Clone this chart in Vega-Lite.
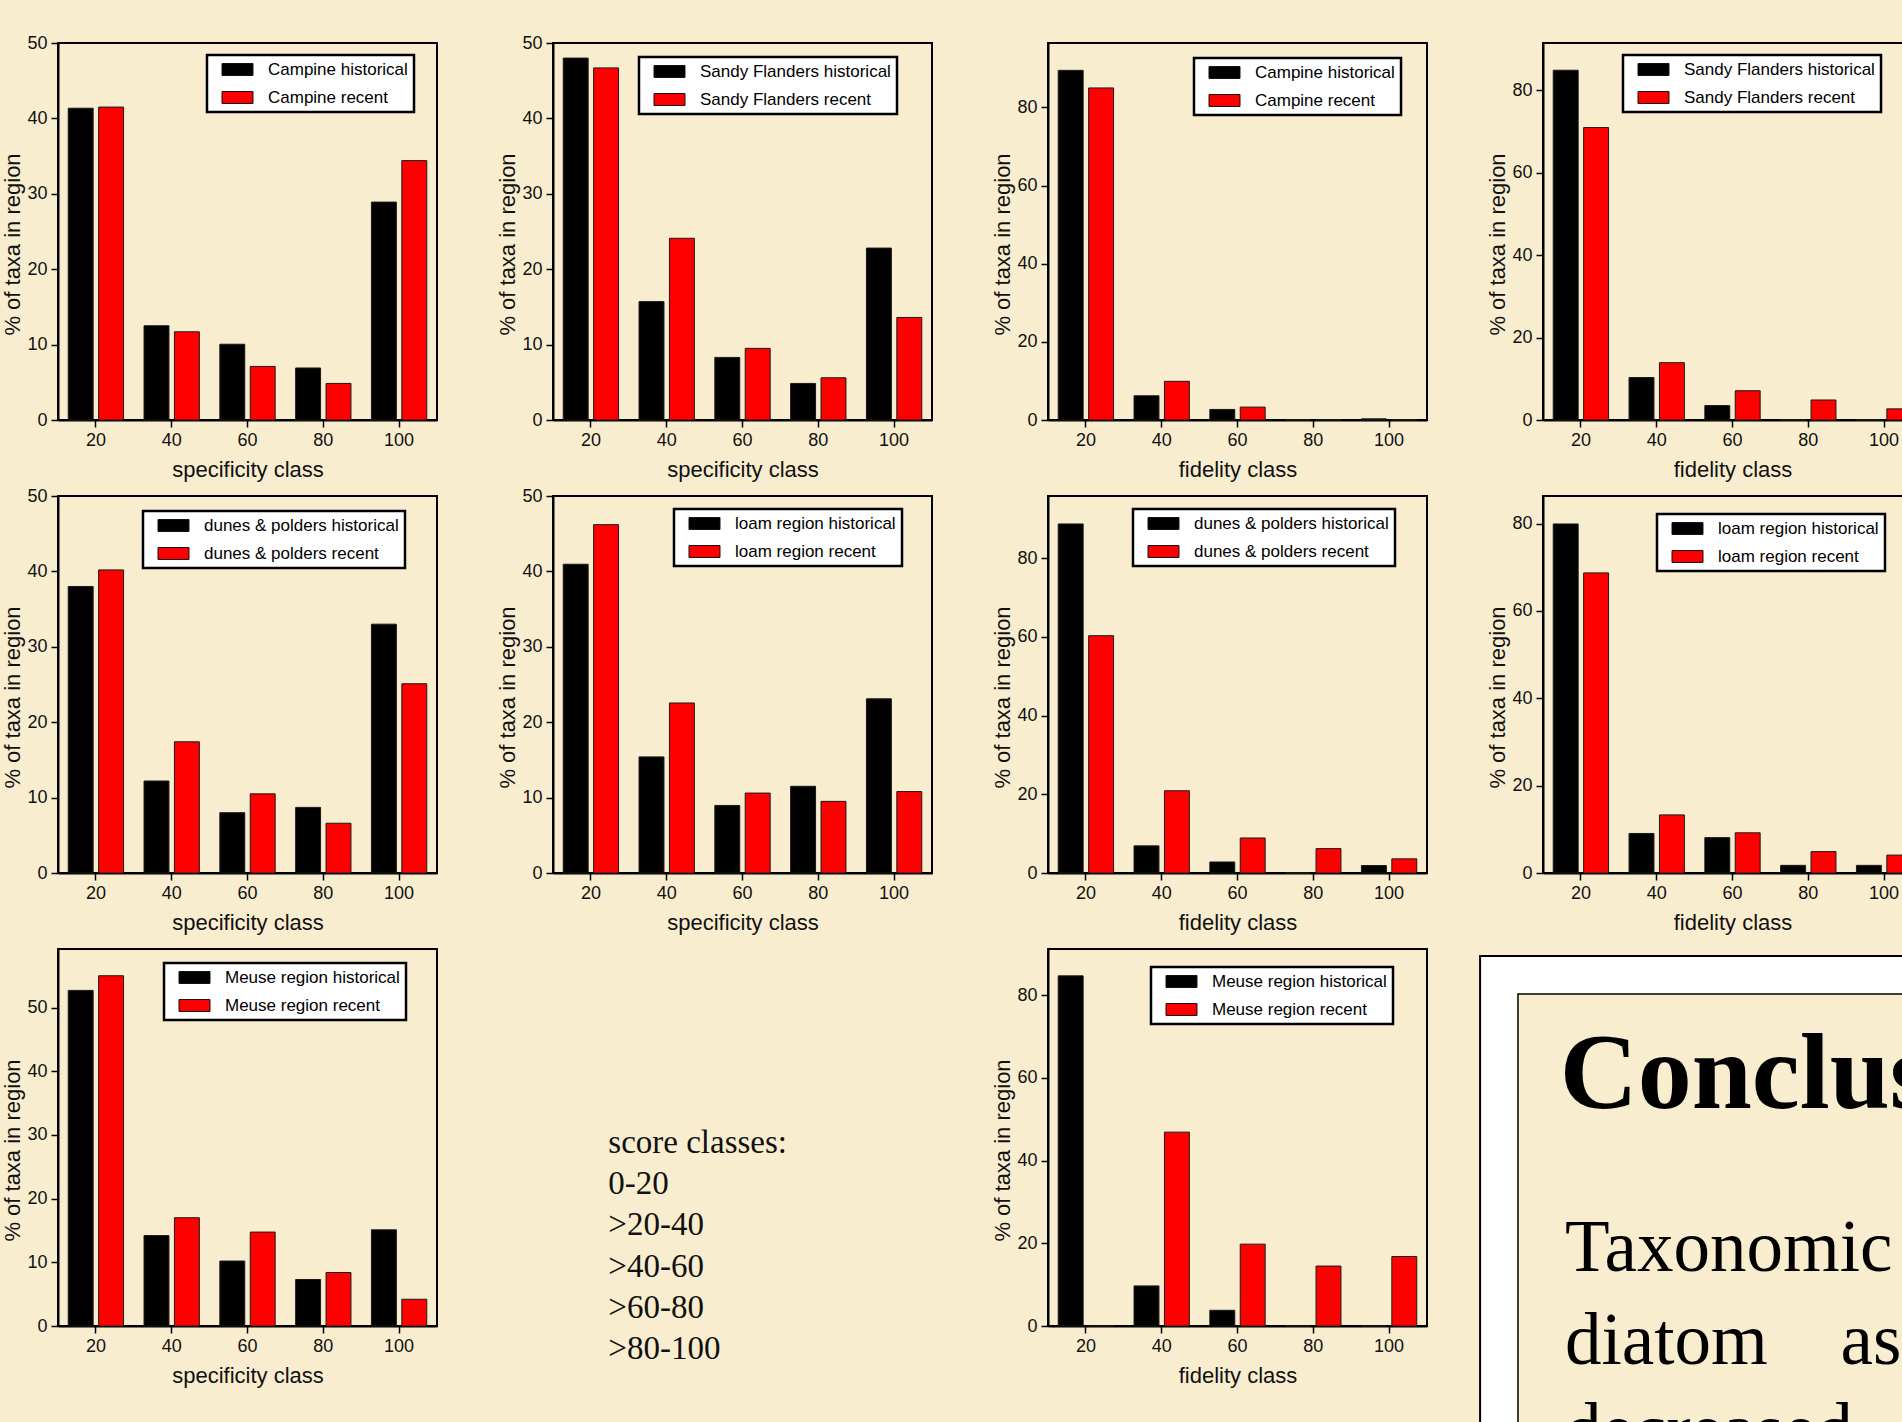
{
  "$schema": "https://vega.github.io/schema/vega-lite/v6.json",
  "background": "#F9EDCF",
  "padding": {"left": 0, "top": 33, "right": 0, "bottom": 0},
  "datasets": {
    "bars": [
      {"p":1,"cls":20,"period":"historical","series":"Campine historical","pct":41.35},
      {"p":1,"cls":40,"period":"historical","series":"Campine historical","pct":12.5},
      {"p":1,"cls":60,"period":"historical","series":"Campine historical","pct":10.05},
      {"p":1,"cls":80,"period":"historical","series":"Campine historical","pct":6.9},
      {"p":1,"cls":100,"period":"historical","series":"Campine historical","pct":28.9},
      {"p":1,"cls":20,"period":"recent","series":"Campine recent","pct":41.5},
      {"p":1,"cls":40,"period":"recent","series":"Campine recent","pct":11.7},
      {"p":1,"cls":60,"period":"recent","series":"Campine recent","pct":7.1},
      {"p":1,"cls":80,"period":"recent","series":"Campine recent","pct":4.85},
      {"p":1,"cls":100,"period":"recent","series":"Campine recent","pct":34.4},

      {"p":2,"cls":20,"period":"historical","series":"Sandy Flanders historical","pct":48.0},
      {"p":2,"cls":40,"period":"historical","series":"Sandy Flanders historical","pct":15.7},
      {"p":2,"cls":60,"period":"historical","series":"Sandy Flanders historical","pct":8.3},
      {"p":2,"cls":80,"period":"historical","series":"Sandy Flanders historical","pct":4.85},
      {"p":2,"cls":100,"period":"historical","series":"Sandy Flanders historical","pct":22.8},
      {"p":2,"cls":20,"period":"recent","series":"Sandy Flanders recent","pct":46.7},
      {"p":2,"cls":40,"period":"recent","series":"Sandy Flanders recent","pct":24.1},
      {"p":2,"cls":60,"period":"recent","series":"Sandy Flanders recent","pct":9.5},
      {"p":2,"cls":80,"period":"recent","series":"Sandy Flanders recent","pct":5.6},
      {"p":2,"cls":100,"period":"recent","series":"Sandy Flanders recent","pct":13.6},

      {"p":3,"cls":20,"period":"historical","series":"Campine historical","pct":89.5},
      {"p":3,"cls":40,"period":"historical","series":"Campine historical","pct":6.2},
      {"p":3,"cls":60,"period":"historical","series":"Campine historical","pct":2.7},
      {"p":3,"cls":80,"period":"historical","series":"Campine historical","pct":0},
      {"p":3,"cls":100,"period":"historical","series":"Campine historical","pct":0.3},
      {"p":3,"cls":20,"period":"recent","series":"Campine recent","pct":85.0},
      {"p":3,"cls":40,"period":"recent","series":"Campine recent","pct":9.9},
      {"p":3,"cls":60,"period":"recent","series":"Campine recent","pct":3.3},
      {"p":3,"cls":80,"period":"recent","series":"Campine recent","pct":0},
      {"p":3,"cls":100,"period":"recent","series":"Campine recent","pct":0},

      {"p":4,"cls":20,"period":"historical","series":"Sandy Flanders historical","pct":84.8},
      {"p":4,"cls":40,"period":"historical","series":"Sandy Flanders historical","pct":10.3},
      {"p":4,"cls":60,"period":"historical","series":"Sandy Flanders historical","pct":3.5},
      {"p":4,"cls":80,"period":"historical","series":"Sandy Flanders historical","pct":0},
      {"p":4,"cls":100,"period":"historical","series":"Sandy Flanders historical","pct":0},
      {"p":4,"cls":20,"period":"recent","series":"Sandy Flanders recent","pct":70.9},
      {"p":4,"cls":40,"period":"recent","series":"Sandy Flanders recent","pct":13.9},
      {"p":4,"cls":60,"period":"recent","series":"Sandy Flanders recent","pct":7.1},
      {"p":4,"cls":80,"period":"recent","series":"Sandy Flanders recent","pct":4.85},
      {"p":4,"cls":100,"period":"recent","series":"Sandy Flanders recent","pct":2.7},

      {"p":5,"cls":20,"period":"historical","series":"dunes & polders historical","pct":38.0},
      {"p":5,"cls":40,"period":"historical","series":"dunes & polders historical","pct":12.2},
      {"p":5,"cls":60,"period":"historical","series":"dunes & polders historical","pct":8.0},
      {"p":5,"cls":80,"period":"historical","series":"dunes & polders historical","pct":8.7},
      {"p":5,"cls":100,"period":"historical","series":"dunes & polders historical","pct":33.0},
      {"p":5,"cls":20,"period":"recent","series":"dunes & polders recent","pct":40.2},
      {"p":5,"cls":40,"period":"recent","series":"dunes & polders recent","pct":17.4},
      {"p":5,"cls":60,"period":"recent","series":"dunes & polders recent","pct":10.5},
      {"p":5,"cls":80,"period":"recent","series":"dunes & polders recent","pct":6.6},
      {"p":5,"cls":100,"period":"recent","series":"dunes & polders recent","pct":25.1},

      {"p":6,"cls":20,"period":"historical","series":"loam region historical","pct":40.95},
      {"p":6,"cls":40,"period":"historical","series":"loam region historical","pct":15.4},
      {"p":6,"cls":60,"period":"historical","series":"loam region historical","pct":8.96},
      {"p":6,"cls":80,"period":"historical","series":"loam region historical","pct":11.5},
      {"p":6,"cls":100,"period":"historical","series":"loam region historical","pct":23.1},
      {"p":6,"cls":20,"period":"recent","series":"loam region recent","pct":46.2},
      {"p":6,"cls":40,"period":"recent","series":"loam region recent","pct":22.55},
      {"p":6,"cls":60,"period":"recent","series":"loam region recent","pct":10.6},
      {"p":6,"cls":80,"period":"recent","series":"loam region recent","pct":9.5},
      {"p":6,"cls":100,"period":"recent","series":"loam region recent","pct":10.8},

      {"p":7,"cls":20,"period":"historical","series":"dunes & polders historical","pct":88.7},
      {"p":7,"cls":40,"period":"historical","series":"dunes & polders historical","pct":6.9},
      {"p":7,"cls":60,"period":"historical","series":"dunes & polders historical","pct":2.8},
      {"p":7,"cls":80,"period":"historical","series":"dunes & polders historical","pct":0},
      {"p":7,"cls":100,"period":"historical","series":"dunes & polders historical","pct":1.9},
      {"p":7,"cls":20,"period":"recent","series":"dunes & polders recent","pct":60.3},
      {"p":7,"cls":40,"period":"recent","series":"dunes & polders recent","pct":20.9},
      {"p":7,"cls":60,"period":"recent","series":"dunes & polders recent","pct":8.9},
      {"p":7,"cls":80,"period":"recent","series":"dunes & polders recent","pct":6.2},
      {"p":7,"cls":100,"period":"recent","series":"dunes & polders recent","pct":3.6},

      {"p":8,"cls":20,"period":"historical","series":"loam region historical","pct":79.9},
      {"p":8,"cls":40,"period":"historical","series":"loam region historical","pct":9.05},
      {"p":8,"cls":60,"period":"historical","series":"loam region historical","pct":8.1},
      {"p":8,"cls":80,"period":"historical","series":"loam region historical","pct":1.75},
      {"p":8,"cls":100,"period":"historical","series":"loam region historical","pct":1.75},
      {"p":8,"cls":20,"period":"recent","series":"loam region recent","pct":68.7},
      {"p":8,"cls":40,"period":"recent","series":"loam region recent","pct":13.3},
      {"p":8,"cls":60,"period":"recent","series":"loam region recent","pct":9.2},
      {"p":8,"cls":80,"period":"recent","series":"loam region recent","pct":4.9},
      {"p":8,"cls":100,"period":"recent","series":"loam region recent","pct":4.1},

      {"p":9,"cls":20,"period":"historical","series":"Meuse region historical","pct":52.7},
      {"p":9,"cls":40,"period":"historical","series":"Meuse region historical","pct":14.2},
      {"p":9,"cls":60,"period":"historical","series":"Meuse region historical","pct":10.2},
      {"p":9,"cls":80,"period":"historical","series":"Meuse region historical","pct":7.3},
      {"p":9,"cls":100,"period":"historical","series":"Meuse region historical","pct":15.1},
      {"p":9,"cls":20,"period":"recent","series":"Meuse region recent","pct":55.0},
      {"p":9,"cls":40,"period":"recent","series":"Meuse region recent","pct":17.0},
      {"p":9,"cls":60,"period":"recent","series":"Meuse region recent","pct":14.75},
      {"p":9,"cls":80,"period":"recent","series":"Meuse region recent","pct":8.4},
      {"p":9,"cls":100,"period":"recent","series":"Meuse region recent","pct":4.2},

      {"p":10,"cls":20,"period":"historical","series":"Meuse region historical","pct":84.7},
      {"p":10,"cls":40,"period":"historical","series":"Meuse region historical","pct":9.7},
      {"p":10,"cls":60,"period":"historical","series":"Meuse region historical","pct":3.8},
      {"p":10,"cls":80,"period":"historical","series":"Meuse region historical","pct":0},
      {"p":10,"cls":100,"period":"historical","series":"Meuse region historical","pct":0},
      {"p":10,"cls":20,"period":"recent","series":"Meuse region recent","pct":0},
      {"p":10,"cls":40,"period":"recent","series":"Meuse region recent","pct":46.9},
      {"p":10,"cls":60,"period":"recent","series":"Meuse region recent","pct":19.8},
      {"p":10,"cls":80,"period":"recent","series":"Meuse region recent","pct":14.5},
      {"p":10,"cls":100,"period":"recent","series":"Meuse region recent","pct":16.8}
    ]
  },
  "columns": 4,
  "bounds": "flush",
  "spacing": {"row": 76, "column": 116},
  "concat": [
    {
      "width": 379, "height": 377,
      "data": {"name": "bars"},
      "transform": [{"filter": "datum.p == 1"}],
      "mark": {"type": "bar", "stroke": "#1a1a1a", "strokeWidth": 1},
      "encoding": {
        "x": {"field": "cls", "type": "ordinal", "title": "specificity class", "scale": {"paddingInner": 0.27, "paddingOuter": 0.135}},
        "xOffset": {"field": "period", "type": "nominal", "scale": {"paddingInner": 0.18}},
        "y": {"field": "pct", "type": "quantitative", "title": "% of taxa in region", "scale": {"domain": [0, 50], "nice": false}, "axis": {"values": [0, 10, 20, 30, 40, 50]}},
        "color": {"field": "series", "type": "nominal", "scale": {"range": ["#000000", "#ff0000"]}, "legend": {"legendX": 149, "legendY": 12}}
      }
    },
    {
      "width": 379, "height": 377,
      "data": {"name": "bars"},
      "transform": [{"filter": "datum.p == 2"}],
      "mark": {"type": "bar", "stroke": "#1a1a1a", "strokeWidth": 1},
      "encoding": {
        "x": {"field": "cls", "type": "ordinal", "title": "specificity class", "scale": {"paddingInner": 0.27, "paddingOuter": 0.135}},
        "xOffset": {"field": "period", "type": "nominal", "scale": {"paddingInner": 0.18}},
        "y": {"field": "pct", "type": "quantitative", "title": "% of taxa in region", "scale": {"domain": [0, 50], "nice": false}, "axis": {"values": [0, 10, 20, 30, 40, 50]}},
        "color": {"field": "series", "type": "nominal", "scale": {"range": ["#000000", "#ff0000"]}, "legend": {"legendX": 86, "legendY": 14}}
      }
    },
    {
      "width": 379, "height": 377,
      "data": {"name": "bars"},
      "transform": [{"filter": "datum.p == 3"}],
      "mark": {"type": "bar", "stroke": "#1a1a1a", "strokeWidth": 1},
      "encoding": {
        "x": {"field": "cls", "type": "ordinal", "title": "fidelity class", "scale": {"paddingInner": 0.27, "paddingOuter": 0.135}},
        "xOffset": {"field": "period", "type": "nominal", "scale": {"paddingInner": 0.18}},
        "y": {"field": "pct", "type": "quantitative", "title": "% of taxa in region", "scale": {"domain": [0, 96.5], "nice": false}, "axis": {"values": [0, 20, 40, 60, 80]}},
        "color": {"field": "series", "type": "nominal", "scale": {"range": ["#000000", "#ff0000"]}, "legend": {"legendX": 146, "legendY": 15}}
      }
    },
    {
      "width": 379, "height": 377,
      "data": {"name": "bars"},
      "transform": [{"filter": "datum.p == 4"}],
      "mark": {"type": "bar", "stroke": "#1a1a1a", "strokeWidth": 1},
      "encoding": {
        "x": {"field": "cls", "type": "ordinal", "title": "fidelity class", "scale": {"paddingInner": 0.27, "paddingOuter": 0.135}},
        "xOffset": {"field": "period", "type": "nominal", "scale": {"paddingInner": 0.18}},
        "y": {"field": "pct", "type": "quantitative", "title": "% of taxa in region", "scale": {"domain": [0, 91.4], "nice": false}, "axis": {"values": [0, 20, 40, 60, 80]}},
        "color": {"field": "series", "type": "nominal", "scale": {"range": ["#000000", "#ff0000"]}, "legend": {"legendX": 80, "legendY": 12}}
      }
    },
    {
      "width": 379, "height": 377,
      "data": {"name": "bars"},
      "transform": [{"filter": "datum.p == 5"}],
      "mark": {"type": "bar", "stroke": "#1a1a1a", "strokeWidth": 1},
      "encoding": {
        "x": {"field": "cls", "type": "ordinal", "title": "specificity class", "scale": {"paddingInner": 0.27, "paddingOuter": 0.135}},
        "xOffset": {"field": "period", "type": "nominal", "scale": {"paddingInner": 0.18}},
        "y": {"field": "pct", "type": "quantitative", "title": "% of taxa in region", "scale": {"domain": [0, 50], "nice": false}, "axis": {"values": [0, 10, 20, 30, 40, 50]}},
        "color": {"field": "series", "type": "nominal", "scale": {"range": ["#000000", "#ff0000"]}, "legend": {"legendX": 85, "legendY": 15}}
      }
    },
    {
      "width": 379, "height": 377,
      "data": {"name": "bars"},
      "transform": [{"filter": "datum.p == 6"}],
      "mark": {"type": "bar", "stroke": "#1a1a1a", "strokeWidth": 1},
      "encoding": {
        "x": {"field": "cls", "type": "ordinal", "title": "specificity class", "scale": {"paddingInner": 0.27, "paddingOuter": 0.135}},
        "xOffset": {"field": "period", "type": "nominal", "scale": {"paddingInner": 0.18}},
        "y": {"field": "pct", "type": "quantitative", "title": "% of taxa in region", "scale": {"domain": [0, 50], "nice": false}, "axis": {"values": [0, 10, 20, 30, 40, 50]}},
        "color": {"field": "series", "type": "nominal", "scale": {"range": ["#000000", "#ff0000"]}, "legend": {"legendX": 121, "legendY": 13}}
      }
    },
    {
      "width": 379, "height": 377,
      "data": {"name": "bars"},
      "transform": [{"filter": "datum.p == 7"}],
      "mark": {"type": "bar", "stroke": "#1a1a1a", "strokeWidth": 1},
      "encoding": {
        "x": {"field": "cls", "type": "ordinal", "title": "fidelity class", "scale": {"paddingInner": 0.27, "paddingOuter": 0.135}},
        "xOffset": {"field": "period", "type": "nominal", "scale": {"paddingInner": 0.18}},
        "y": {"field": "pct", "type": "quantitative", "title": "% of taxa in region", "scale": {"domain": [0, 95.8], "nice": false}, "axis": {"values": [0, 20, 40, 60, 80]}},
        "color": {"field": "series", "type": "nominal", "scale": {"range": ["#000000", "#ff0000"]}, "legend": {"legendX": 85, "legendY": 13}}
      }
    },
    {
      "width": 379, "height": 377,
      "data": {"name": "bars"},
      "transform": [{"filter": "datum.p == 8"}],
      "mark": {"type": "bar", "stroke": "#1a1a1a", "strokeWidth": 1},
      "encoding": {
        "x": {"field": "cls", "type": "ordinal", "title": "fidelity class", "scale": {"paddingInner": 0.27, "paddingOuter": 0.135}},
        "xOffset": {"field": "period", "type": "nominal", "scale": {"paddingInner": 0.18}},
        "y": {"field": "pct", "type": "quantitative", "title": "% of taxa in region", "scale": {"domain": [0, 86.3], "nice": false}, "axis": {"values": [0, 20, 40, 60, 80]}},
        "color": {"field": "series", "type": "nominal", "scale": {"range": ["#000000", "#ff0000"]}, "legend": {"legendX": 114, "legendY": 18}}
      }
    },
    {
      "width": 379, "height": 377,
      "data": {"name": "bars"},
      "transform": [{"filter": "datum.p == 9"}],
      "mark": {"type": "bar", "stroke": "#1a1a1a", "strokeWidth": 1},
      "encoding": {
        "x": {"field": "cls", "type": "ordinal", "title": "specificity class", "scale": {"paddingInner": 0.27, "paddingOuter": 0.135}},
        "xOffset": {"field": "period", "type": "nominal", "scale": {"paddingInner": 0.18}},
        "y": {"field": "pct", "type": "quantitative", "title": "% of taxa in region", "scale": {"domain": [0, 59.2], "nice": false}, "axis": {"values": [0, 10, 20, 30, 40, 50]}},
        "color": {"field": "series", "type": "nominal", "scale": {"range": ["#000000", "#ff0000"]}, "legend": {"legendX": 106, "legendY": 14}}
      }
    },
    {
      "width": 379, "height": 377,
      "view": {"stroke": null},
      "data": {"values": [{}]},
      "mark": {"type": "text", "text": ["score classes:", "0-20", ">20-40", ">40-60", ">60-80", ">80-100"], "font": "Liberation Serif", "fontSize": 33, "lineHeight": 41.2, "align": "left", "baseline": "alphabetic", "color": "#111111"},
      "encoding": {
        "x": {"datum": 0.146, "type": "quantitative", "scale": {"domain": [0, 1]}, "axis": null},
        "y": {"datum": 0.541, "type": "quantitative", "scale": {"domain": [0, 1], "reverse": true}, "axis": null}
      }
    },
    {
      "width": 379, "height": 377,
      "data": {"name": "bars"},
      "transform": [{"filter": "datum.p == 10"}],
      "mark": {"type": "bar", "stroke": "#1a1a1a", "strokeWidth": 1},
      "encoding": {
        "x": {"field": "cls", "type": "ordinal", "title": "fidelity class", "scale": {"paddingInner": 0.27, "paddingOuter": 0.135}},
        "xOffset": {"field": "period", "type": "nominal", "scale": {"paddingInner": 0.18}},
        "y": {"field": "pct", "type": "quantitative", "title": "% of taxa in region", "scale": {"domain": [0, 91.2], "nice": false}, "axis": {"values": [0, 20, 40, 60, 80]}},
        "color": {"field": "series", "type": "nominal", "scale": {"range": ["#000000", "#ff0000"]}, "legend": {"legendX": 103, "legendY": 18}}
      }
    },
    {
      "width": 379, "height": 377,
      "view": {"stroke": null},
      "data": {"values": [{}]},
      "layer": [
        {
          "mark": {"type": "rect", "fill": "#ffffff", "stroke": "#000000", "strokeWidth": 2},
          "encoding": {
            "x": {"datum": -0.166, "type": "quantitative", "scale": {"domain": [0, 1]}, "axis": null},
            "x2": {"datum": 1.2},
            "y": {"datum": 0.0186, "type": "quantitative", "scale": {"domain": [0, 1], "reverse": true}, "axis": null},
            "y2": {"datum": 1.4}
          }
        },
        {
          "mark": {"type": "rect", "fill": "#F9EDCF", "stroke": "#000000", "strokeWidth": 1.5},
          "encoding": {
            "x": {"datum": -0.066, "type": "quantitative"},
            "x2": {"datum": 1.2},
            "y": {"datum": 0.1194, "type": "quantitative"},
            "y2": {"datum": 1.4}
          }
        },
        {
          "mark": {"type": "text", "text": "Conclusions", "font": "Liberation Serif", "fontWeight": "bold", "fontSize": 108, "align": "left", "baseline": "alphabetic", "color": "#000000"},
          "encoding": {
            "x": {"datum": 0.044, "type": "quantitative"},
            "y": {"datum": 0.4218, "type": "quantitative"}
          }
        },
        {
          "mark": {"type": "text", "text": "Taxonomic", "font": "Liberation Serif", "fontSize": 73, "align": "left", "baseline": "alphabetic", "color": "#000000"},
          "encoding": {
            "x": {"datum": 0.058, "type": "quantitative"},
            "y": {"datum": 0.854, "type": "quantitative"}
          }
        },
        {
          "mark": {"type": "text", "text": "diatom", "font": "Liberation Serif", "fontSize": 73, "align": "left", "baseline": "alphabetic", "color": "#000000"},
          "encoding": {
            "x": {"datum": 0.058, "type": "quantitative"},
            "y": {"datum": 1.1008, "type": "quantitative"}
          }
        },
        {
          "mark": {"type": "text", "text": "assemblages", "font": "Liberation Serif", "fontSize": 73, "align": "left", "baseline": "alphabetic", "color": "#000000"},
          "encoding": {
            "x": {"datum": 0.785, "type": "quantitative"},
            "y": {"datum": 1.1008, "type": "quantitative"}
          }
        },
        {
          "mark": {"type": "text", "text": "decreased", "font": "Liberation Serif", "fontSize": 73, "align": "left", "baseline": "alphabetic", "color": "#000000"},
          "encoding": {
            "x": {"datum": 0.058, "type": "quantitative"},
            "y": {"datum": 1.34, "type": "quantitative"}
          }
        }
      ]
    }
  ],
  "resolve": {
    "scale": {"x": "independent", "y": "independent", "color": "independent", "xOffset": "independent"},
    "legend": {"color": "independent"}
  },
  "config": {
    "view": {"stroke": "#000000", "strokeWidth": 2},
    "axis": {
      "grid": false,
      "domainColor": "#000000",
      "domainWidth": 2,
      "tickColor": "#000000",
      "tickWidth": 1.5,
      "tickSize": 7,
      "labelFont": "Liberation Sans",
      "labelFontSize": 18,
      "labelColor": "#111111",
      "labelPadding": 4,
      "titleFont": "Liberation Sans",
      "titleFontSize": 22,
      "titleFontWeight": "normal",
      "titleColor": "#111111"
    },
    "axisX": {"labelAngle": 0, "titlePadding": 10},
    "axisY": {"titlePadding": 2, "titleY": 201},
    "legend": {
      "orient": "none",
      "title": null,
      "fillColor": "#ffffff",
      "strokeColor": "#000000",
      "strokeWidth": 2.5,
      "padding": 6,
      "rowPadding": 10,
      "labelFont": "Liberation Sans",
      "labelFontSize": 17,
      "labelColor": "#000000",
      "labelLimit": 0,
      "symbolType": "M-2,-0.77H2V0.77H-2Z",
      "symbolSize": 240,
      "symbolStrokeColor": "#111111",
      "symbolStrokeWidth": 1,
      "symbolOpacity": 1,
      "symbolOffset": 16,
      "labelOffset": 22
    }
  }
}
